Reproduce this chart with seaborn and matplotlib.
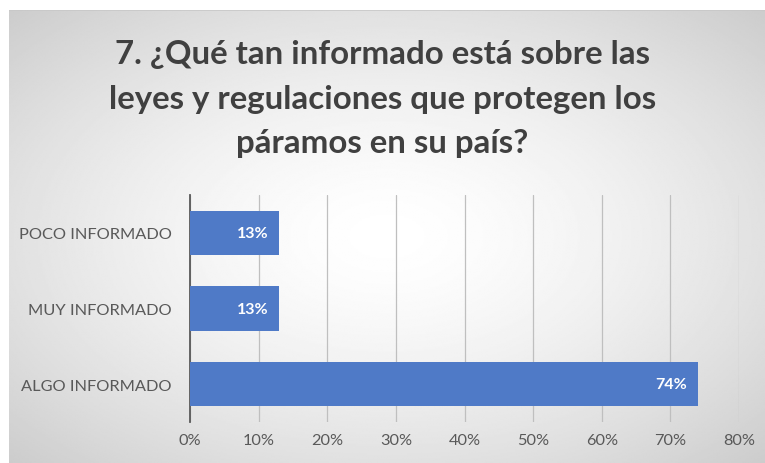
import numpy as np
import pandas as pd
import matplotlib
matplotlib.use("Agg")
import matplotlib.pyplot as plt
import seaborn as sns

categories = ["POCO INFORMADO", "MUY INFORMADO", "ALGO INFORMADO"]
values = [13, 13, 74]
xticks = [0, 10, 20, 30, 40, 50, 60, 70, 80]
title = "7. ¿Qué tan informado está sobre las\nleyes y regulaciones que protegen los\npáramos en su país?"

df = pd.DataFrame({"respuesta": categories, "pct": values})

sns.set_style("white")
plt.rcParams["font.family"] = ["Lato", "DejaVu Sans"]

W, H = 765, 464
fig = plt.figure(figsize=(W / 100, H / 100), dpi=100)
fig.patch.set_facecolor("white")

# radial gradient background (chart area, with a thin white margin top/left)
bg = fig.add_axes([9 / W, 0, 1 - 9 / W, 1 - 11 / H], zorder=0)
yy, xx = np.mgrid[-1:1:300j, -1:1:500j]
r = np.sqrt(xx ** 2 + yy ** 2) / np.sqrt(2)
shade = 1.0 - 0.2 * r ** 1.5
bg.imshow(shade, cmap="gray", vmin=0, vmax=1, aspect="auto", interpolation="bilinear")
bg.set_xticks([])
bg.set_yticks([])
for s in bg.spines.values():
    s.set_visible(False)
bg.axhline(-0.5, color="#c8c8c8", lw=1.2)

ax = fig.add_axes([190 / W, 1 - 423 / H, (739 - 190) / W, (423 - 196) / H], zorder=1)
ax.patch.set_alpha(0)

sns.barplot(data=df, x="pct", y="respuesta", order=categories, color="#4f7ac7",
            width=0.59, saturation=1, linewidth=0, ax=ax, zorder=3)

ax.set_xlim(0, 80)
ax.set_ylim(2.5, -0.5)
ax.set_xticks(xticks)
ax.set_xticklabels([f"{t}%" for t in xticks])
ax.grid(axis="x", color="#bfbfbf", lw=0.9, zorder=0)
ax.tick_params(axis="both", length=0, labelsize=11.8, labelcolor="#595959")
ax.tick_params(axis="x", pad=8)
ax.tick_params(axis="y", pad=13)
for s in ["top", "right", "bottom"]:
    ax.spines[s].set_visible(False)
ax.spines["left"].set_color("#595959")
ax.spines["left"].set_linewidth(1.3)
ax.set_xlabel("")
ax.set_ylabel("")

for bar, v in zip(ax.patches, values):
    ax.text(bar.get_width() - 1.6, bar.get_y() + bar.get_height() / 2, f"{v}%",
            ha="right", va="center", color="white", fontsize=11.5, fontweight="bold", zorder=4)

fig.text(0.5, 1 - 99 / H, title, ha="center", va="center", fontsize=23.8, fontweight="bold",
         color="#404040", linespacing=1.65)

fig.savefig("out.png", dpi=100)
